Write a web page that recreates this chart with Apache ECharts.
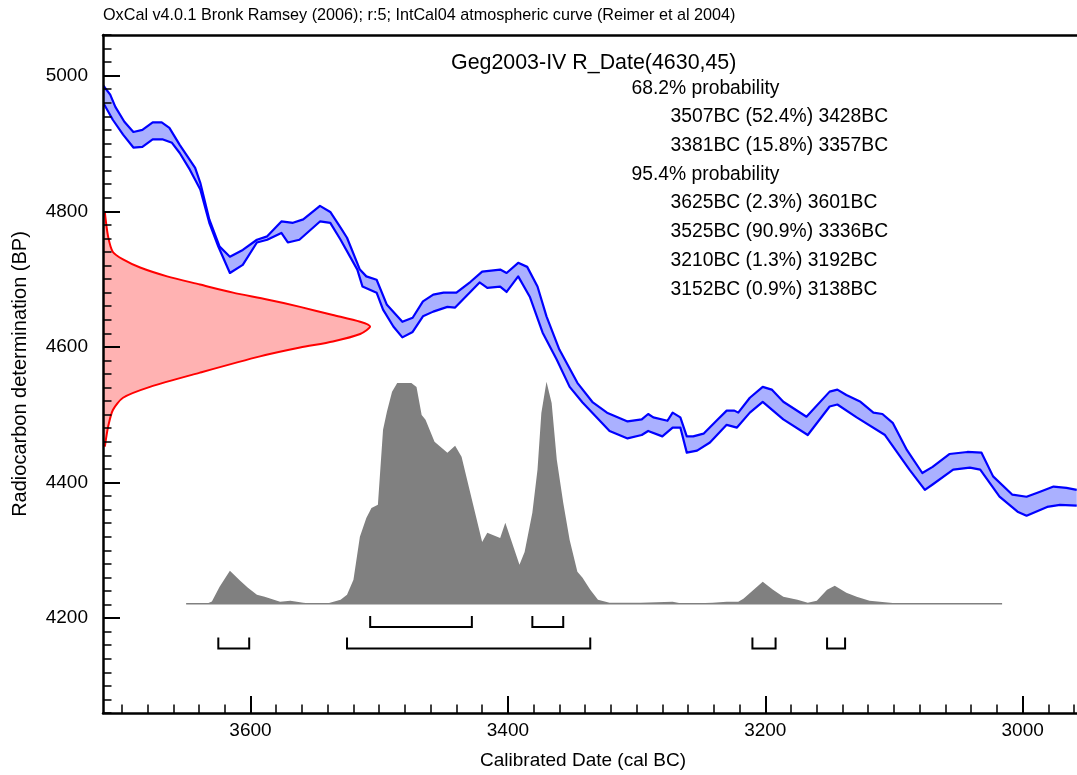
<!DOCTYPE html>
<html><head><meta charset="utf-8">
<script src="https://cdn.jsdelivr.net/npm/echarts@6/dist/echarts.min.js"></script>
<style>html,body{margin:0;padding:0;background:#fff}#c{width:1077px;height:775px}</style>
</head><body><div id="c"></div>
<script>
// ---- Calibration curve band (IntCal04), upper and lower edges ----
const upperCal = [3715,3709,3705,3698,3691,3684,3676,3669,3663,3655,3643,3639,3632,3624,3616,3606,3595,3587,3576,3567,3559,3546,3538,3530,3525,3515,3510,3502,3494,3482,3474,3466,3458,3450,3440,3429,3420,3406,3401,3392,3385,3377,3370,3360,3346,3334,3323,3307,3296,3291,3287,3276,3272,3266,3261,3256,3248,3237,3230,3224,3221,3212,3202,3195,3186,3168,3150,3144,3137,3126,3116,3109,3101,3090,3078,3070,3057,3043,3032,3023,3008,2997,2987,2976,2966,2958];
const upperBP  = [4987,4972,4954,4932,4917,4920,4931,4931,4923,4898,4864,4842,4788,4748,4733,4743,4758,4763,4785,4783,4788,4808,4799,4776,4761,4714,4704,4699,4662,4637,4643,4667,4677,4680,4680,4696,4711,4714,4709,4724,4718,4689,4645,4596,4547,4518,4503,4490,4493,4501,4496,4491,4503,4496,4468,4468,4472,4493,4506,4506,4503,4525,4541,4537,4519,4497,4534,4537,4529,4519,4503,4501,4488,4448,4414,4423,4442,4445,4444,4409,4382,4379,4386,4394,4392,4389];
const lowerCal = [3715,3707,3699,3691,3684,3676,3668,3661,3655,3647,3639,3632,3625,3616,3606,3595,3587,3576,3571,3562,3546,3538,3530,3517,3513,3502,3497,3489,3482,3474,3466,3458,3447,3441,3422,3416,3406,3401,3392,3383,3373,3362,3352,3342,3328,3321,3307,3296,3291,3280,3272,3266,3261,3253,3243,3230,3222,3212,3202,3186,3167,3150,3144,3129,3107,3088,3076,3070,3054,3041,3033,3018,3004,2997,2981,2971,2958];
const lowerBP  = [4962,4935,4913,4894,4895,4906,4906,4901,4886,4861,4832,4783,4748,4709,4721,4754,4758,4768,4754,4758,4785,4783,4758,4714,4689,4680,4655,4630,4614,4622,4645,4652,4659,4658,4695,4687,4689,4681,4704,4674,4621,4581,4541,4518,4490,4476,4465,4470,4476,4468,4481,4481,4444,4447,4459,4485,4481,4503,4519,4493,4470,4512,4515,4496,4470,4419,4389,4397,4419,4422,4419,4379,4357,4351,4364,4367,4366];

// ---- Radiocarbon measurement likelihood R_Date(4630,45), relative ----
const measBP   = [4798,4763,4740,4729,4717,4704,4692,4680,4670,4659,4647,4637,4630,4619,4608,4599,4586,4562,4541,4525,4507,4482,4453];
const measProb = [0.007,0.019,0.037,0.075,0.139,0.240,0.363,0.487,0.614,0.738,0.861,0.963,1.0,0.963,0.861,0.738,0.588,0.363,0.176,0.075,0.037,0.019,0.007];

// ---- Calibrated date distribution, relative probability ----
const calYears = [3650,3634,3630,3624,3616,3608,3602,3595,3589,3577,3569,3559,3551,3541,3530,3525,3520,3515,3510,3506,3501,3497,3494,3490,3486,3480,3475,3471,3467,3464,3457,3447,3441,3436,3420,3416,3406,3402,3391,3387,3381,3377,3374,3370,3366,3362,3357,3352,3346,3342,3336,3330,3321,3297,3272,3264,3241,3230,3221,3217,3202,3194,3186,3175,3167,3160,3152,3146,3137,3129,3119,3103,3095,3016];
const calProb  = [0,0,0.01,0.077,0.149,0.104,0.072,0.041,0.032,0.009,0.014,0.005,0,0,0.018,0.041,0.108,0.302,0.387,0.432,0.446,0.784,0.865,0.955,0.995,0.995,0.995,0.977,0.851,0.829,0.730,0.680,0.712,0.662,0.279,0.320,0.297,0.365,0.176,0.234,0.410,0.604,0.860,1.0,0.905,0.649,0.455,0.288,0.144,0.117,0.063,0.018,0.005,0.005,0.009,0,0.005,0.009,0.009,0.023,0.099,0.063,0.032,0.018,0.005,0.014,0.063,0.081,0.050,0.032,0.014,0.005,0,0];

// ---- Highest probability ranges ----
const range68Start = [3507, 3381];
const range68End   = [3428, 3357];
const range95Start = [3625, 3525, 3210, 3152];
const range95End   = [3601, 3336, 3192, 3138];

// ---- Ticks ----
const xMajorTicks = [3600, 3400, 3200, 3000];
const xMinorTicks = [2960,2980,3000,3020,3040,3060,3080,3100,3120,3140,3160,3180,3200,3220,3240,3260,3280,3300,3320,3340,3360,3380,3400,3420,3440,3460,3480,3500,3520,3540,3560,3580,3600,3620,3640,3660,3680,3700];
const yMajorTicks = [4200, 4400, 4600, 4800, 5000];

// ---- Texts ----
const headerText = 'OxCal v4.0.1 Bronk Ramsey (2006); r:5; IntCal04 atmospheric curve (Reimer et al 2004)';
const titleText = 'Geg2003-IV R_Date(4630,45)';
const summaryLines = ['68.2% probability','3507BC (52.4%) 3428BC','3381BC (15.8%) 3357BC','95.4% probability','3625BC (2.3%) 3601BC','3525BC (90.9%) 3336BC','3210BC (1.3%) 3192BC','3152BC (0.9%) 3138BC'];
const summaryIndent = [false,true,true,false,true,true,true,true];
const xAxisName = 'Calibrated Date (cal BC)';
const yAxisName = 'Radiocarbon determination (BP)';

// ---- display constants ----
const X_MIN = 2957.8, X_MAX = 3714.6, Y_MIN = 4060, Y_MAX = 5060;
const MEAS_WIDTH = 207.5;      // years for peak of likelihood
const DIST_BASE = 4221, DIST_HEIGHT = 327.5; // BP units
const ROW68 = 4187, ROW95 = 4155, BRACKET_H = 11;
const FONT = '"Liberation Sans", Arial, sans-serif';

const chart = echarts.init(document.getElementById('c'), null, {renderer: 'canvas'});

function bandRender(params, api) {
  if (params.dataIndex !== 0) return null;
  const up = upperCal.map((x, i) => api.coord([x, upperBP[i]]));
  const lo = lowerCal.map((x, i) => api.coord([x, lowerBP[i]]));
  const poly = up.concat(lo.slice().reverse());
  return {type: 'group', children: [
    {type: 'polygon', shape: {points: poly}, style: {fill: '#aab0ff', stroke: null}},
    {type: 'polyline', shape: {points: up}, style: {stroke: '#0000ff', lineWidth: 2.2, fill: null, lineJoin: 'round'}},
    {type: 'polyline', shape: {points: lo}, style: {stroke: '#0000ff', lineWidth: 2.2, fill: null, lineJoin: 'round'}}
  ]};
}
function measRender(params, api) {
  if (params.dataIndex !== 0) return null;
  const pts = measBP.map((b, i) => api.coord([X_MAX - measProb[i] * MEAS_WIDTH, b]));
  const poly = [api.coord([X_MAX, measBP[0]])].concat(pts, [api.coord([X_MAX, measBP[measBP.length - 1]])]);
  return {type: 'group', children: [
    {type: 'polygon', shape: {points: poly, smooth: 0.25}, style: {fill: '#ffb2b2', stroke: null}},
    {type: 'polyline', shape: {points: pts, smooth: 0.25}, style: {stroke: '#ff0000', lineWidth: 2, fill: null}}
  ]};
}
function distRender(params, api) {
  if (params.dataIndex !== 0) return null;
  const pts = calYears.map((x, i) => api.coord([x, DIST_BASE + calProb[i] * DIST_HEIGHT]));
  const a = api.coord([calYears[0], DIST_BASE]);
  const b = api.coord([calYears[calYears.length - 1], DIST_BASE]);
  return {type: 'group', children: [
    {type: 'polygon', shape: {points: [a].concat(pts, [b])}, style: {fill: '#808080', stroke: null}},
    {type: 'line', shape: {x1: a[0], y1: a[1], x2: b[0], y2: b[1]}, style: {stroke: '#808080', lineWidth: 1.5}}
  ]};
}
function bracketRender(starts, ends, row) {
  return function (params, api) {
    if (params.dataIndex !== 0) return null;
    const children = [];
    starts.forEach((s, i) => {
      const p1 = api.coord([s, row]);
      const p2 = api.coord([ends[i], row]);
      children.push({type: 'polyline', shape: {points: [[p1[0], p1[1] - BRACKET_H], p1, p2, [p2[0], p2[1] - BRACKET_H]]},
        style: {stroke: '#000', lineWidth: 2, fill: null}});
    });
    return {type: 'group', children};
  };
}

const graphics = [
  {type: 'text', x: 103, y: 16, style: {text: headerText, fill: '#000', font: '16.2px ' + FONT, textAlign: 'left', textVerticalAlign: 'middle', align: 'left', verticalAlign: 'middle'}},
  {type: 'text', x: 451, y: 63, style: {text: titleText, fill: '#000', font: '21.4px ' + FONT, textAlign: 'left', textVerticalAlign: 'middle', align: 'left', verticalAlign: 'middle'}},
  {type: 'text', x: 583, y: 761, style: {text: xAxisName, fill: '#000', font: '19px ' + FONT, textAlign: 'center', textVerticalAlign: 'middle', align: 'center', verticalAlign: 'middle'}},
  {type: 'text', x: 20, y: 374, rotation: Math.PI / 2, style: {text: yAxisName, fill: '#000', font: '20px ' + FONT, textAlign: 'center', textVerticalAlign: 'middle', align: 'center', verticalAlign: 'middle'}}
];
summaryLines.forEach((t, i) => {
  graphics.push({type: 'text', x: summaryIndent[i] ? 670.5 : 631.5, y: 88.3 + i * 28.7,
    style: {text: t, fill: '#000', font: '19.3px ' + FONT, textAlign: 'left', textVerticalAlign: 'middle', align: 'left', verticalAlign: 'middle'}});
});

const axisLineStyle = {color: '#000', width: 2.5};
const lbl = {color: '#000', fontSize: 19, fontFamily: FONT};

chart.setOption({
  animation: false,
  backgroundColor: '#fff',
  grid: {left: 103, top: 35, right: 0, bottom: 62, containLabel: false},
  xAxis: [
    {type: 'value', position: 'bottom', min: X_MIN, max: X_MAX, inverse: true, z: 10,
      axisLine: {show: true, lineStyle: axisLineStyle},
      axisTick: {show: true, inside: true, length: 17, customValues: xMajorTicks, lineStyle: {color: '#000', width: 2}},
      axisLabel: Object.assign({customValues: xMajorTicks, margin: 8, formatter: v => String(v)}, lbl),
      splitLine: {show: false}},
    {type: 'value', position: 'bottom', min: X_MIN, max: X_MAX, inverse: true, z: 10,
      axisLine: {show: false},
      axisTick: {show: true, inside: true, length: 8.5, customValues: xMinorTicks, lineStyle: {color: '#000', width: 1.5}},
      axisLabel: {show: false}, splitLine: {show: false}},
    {type: 'value', position: 'top', min: X_MIN, max: X_MAX, inverse: true, z: 10,
      axisLine: {show: true, lineStyle: axisLineStyle},
      axisTick: {show: false}, axisLabel: {show: false}, splitLine: {show: false}}
  ],
  yAxis: [
    {type: 'value', position: 'left', min: Y_MIN, max: Y_MAX, z: 10,
      axisLine: {show: true, lineStyle: axisLineStyle},
      axisTick: {show: true, inside: true, length: 17, customValues: yMajorTicks, lineStyle: {color: '#000', width: 2}},
      axisLabel: Object.assign({customValues: yMajorTicks, margin: 15, formatter: v => String(v)}, lbl),
      splitLine: {show: false}},
    {type: 'value', position: 'left', min: Y_MIN, max: Y_MAX, interval: 20, z: 10,
      axisLine: {show: false},
      axisTick: {show: true, inside: true, length: 8.5, lineStyle: {color: '#000', width: 1.5}},
      axisLabel: {show: false}, splitLine: {show: false}}
  ],
  graphic: graphics,
  series: [
    {type: 'custom', name: 'calibrated', coordinateSystem: 'cartesian2d', clip: true, z: 2,
      data: calYears.map((x, i) => [x, DIST_BASE + calProb[i] * DIST_HEIGHT]), renderItem: distRender},
    {type: 'custom', name: 'measurement', coordinateSystem: 'cartesian2d', clip: true, z: 3,
      data: measBP.map((b, i) => [X_MAX - measProb[i] * MEAS_WIDTH, b]), renderItem: measRender},
    {type: 'custom', name: 'IntCal04', coordinateSystem: 'cartesian2d', clip: true, z: 4,
      data: upperCal.map((x, i) => [x, upperBP[i]]), renderItem: bandRender},
    {type: 'custom', name: '68.2%', coordinateSystem: 'cartesian2d', clip: true, z: 5,
      data: range68Start.map((s, i) => [s, ROW68]), renderItem: bracketRender(range68Start, range68End, ROW68)},
    {type: 'custom', name: '95.4%', coordinateSystem: 'cartesian2d', clip: true, z: 5,
      data: range95Start.map((s, i) => [s, ROW95]), renderItem: bracketRender(range95Start, range95End, ROW95)}
  ]
});
</script></body></html>
